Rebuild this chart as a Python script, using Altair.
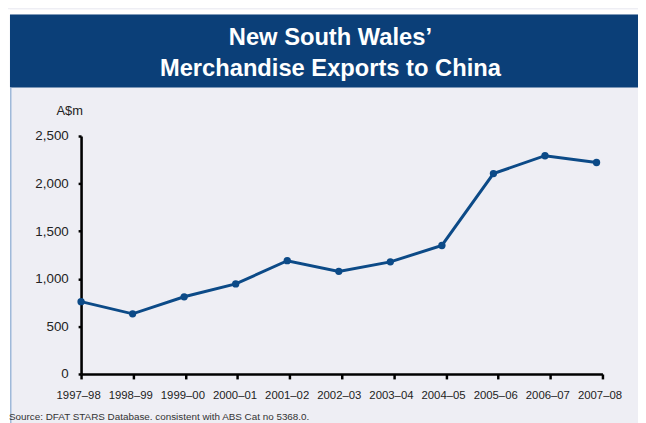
import altair as alt
import pandas as pd

# ---- data ----
years = ["1997–98", "1998–99", "1999–00", "2000–01", "2001–02", "2002–03",
         "2003–04", "2004–05", "2005–06", "2006–07", "2007–08"]
exports = [760, 632, 811, 946, 1190, 1078, 1178, 1350, 2105, 2293, 2222]
title_lines = ["New South Wales’", "Merchandise Exports to China"]
unit_label = "A$m"
source_note = "Source: DFAT STARS Database. consistent with ABS Cat no 5368.0."
y_ticks = [0, 500, 1000, 1500, 2000, 2500]

df = pd.DataFrame({"year": years, "value": exports})
one = pd.DataFrame({"k": [0]})

NAVY = "#0b3f78"
LINE = "#0c4a87"
PANEL = "#eeeef4"
FONT = "Liberation Sans"

W, H = 528, 241

# decorative layers (header band, white page strips, left border)
white_top = alt.Chart(one).mark_rect(color="white").encode(
    x=alt.value(-74), x2=alt.value(W + 40), y=alt.value(-128), y2=alt.value(-123))
white_left = alt.Chart(one).mark_rect(color="white").encode(
    x=alt.value(-74), x2=alt.value(-72), y=alt.value(-128), y2=alt.value(H + 50))
header = alt.Chart(one).mark_rect(color=NAVY).encode(
    x=alt.value(-72), x2=alt.value(W + 40), y=alt.value(-123), y2=alt.value(-49))
border = alt.Chart(one).mark_rule(color="#9db8d9", strokeWidth=1.5).encode(
    x=alt.value(-71.2), y=alt.value(-49), y2=alt.value(H + 50))

title = alt.Chart(pd.DataFrame({"t": ["\n".join(title_lines)]})).mark_text(
    font=FONT, fontSize=24, fontWeight="bold", color="white", align="center",
    baseline="alphabetic", lineBreak="\n", lineHeight=31
).encode(text="t:N", x=alt.value(252.5), y=alt.value(-91.7))

source = alt.Chart(pd.DataFrame({"t": [source_note]})).mark_text(
    font=FONT, fontSize=10, color="#333333", align="left", baseline="alphabetic"
).encode(text="t:N", x=alt.value(-73), y=alt.value(288))

# axis layer
axes = alt.Chart(df).mark_point(opacity=0).encode(
    x=alt.X("year:N", sort=years,
            scale=alt.Scale(type="point", padding=0),
            axis=alt.Axis(title=None, labelFontSize=11.5, labelFont=FONT, labelColor="#222222",
                          tickSize=5, labelPadding=11, labelOffset=-3,
                          labelAngle=0, grid=False)),
    y=alt.Y("value:Q", scale=alt.Scale(domain=[0, 2500], nice=False),
            axis=alt.Axis(values=y_ticks, format=",d", title=unit_label, titleAngle=0,
                          titleX=-12, titleY=-22, titleAlign="center",
                          titleBaseline="alphabetic", titleFont=FONT, titleFontSize=13,
                          titleFontWeight="normal", titleColor="#222222",
                          labelFont=FONT, labelFontSize=13.5, labelColor="#222222",
                          tickSize=3, labelPadding=10, grid=False)),
)

series = alt.Chart(df).mark_line(
    color=LINE, strokeWidth=3,
    point=alt.OverlayMarkDef(color=LINE, size=55, filled=True, opacity=1)
).encode(
    x=alt.X("year:N", sort=years,
            scale=alt.Scale(type="point", padding=0, range=[0, 522]), axis=None),
    y=alt.Y("value:Q"),
)

chart = alt.layer(
    white_top, white_left, header, border, title, source, axes, series
).resolve_scale(x="independent").properties(
    width=W, height=H,
    autosize=alt.AutoSizeParams(type="none"),
    padding={"left": 74, "top": 127, "right": 36, "bottom": 47},
    background=PANEL,
).configure_view(stroke=None).configure_axis(
    domainColor="#000000", domainWidth=2.6, domainOpacity=1,
    tickColor="#000000", tickWidth=2.5, tickOpacity=1,
)

chart.save("out.html", embed_options={"renderer": "svg", "actions": False})
